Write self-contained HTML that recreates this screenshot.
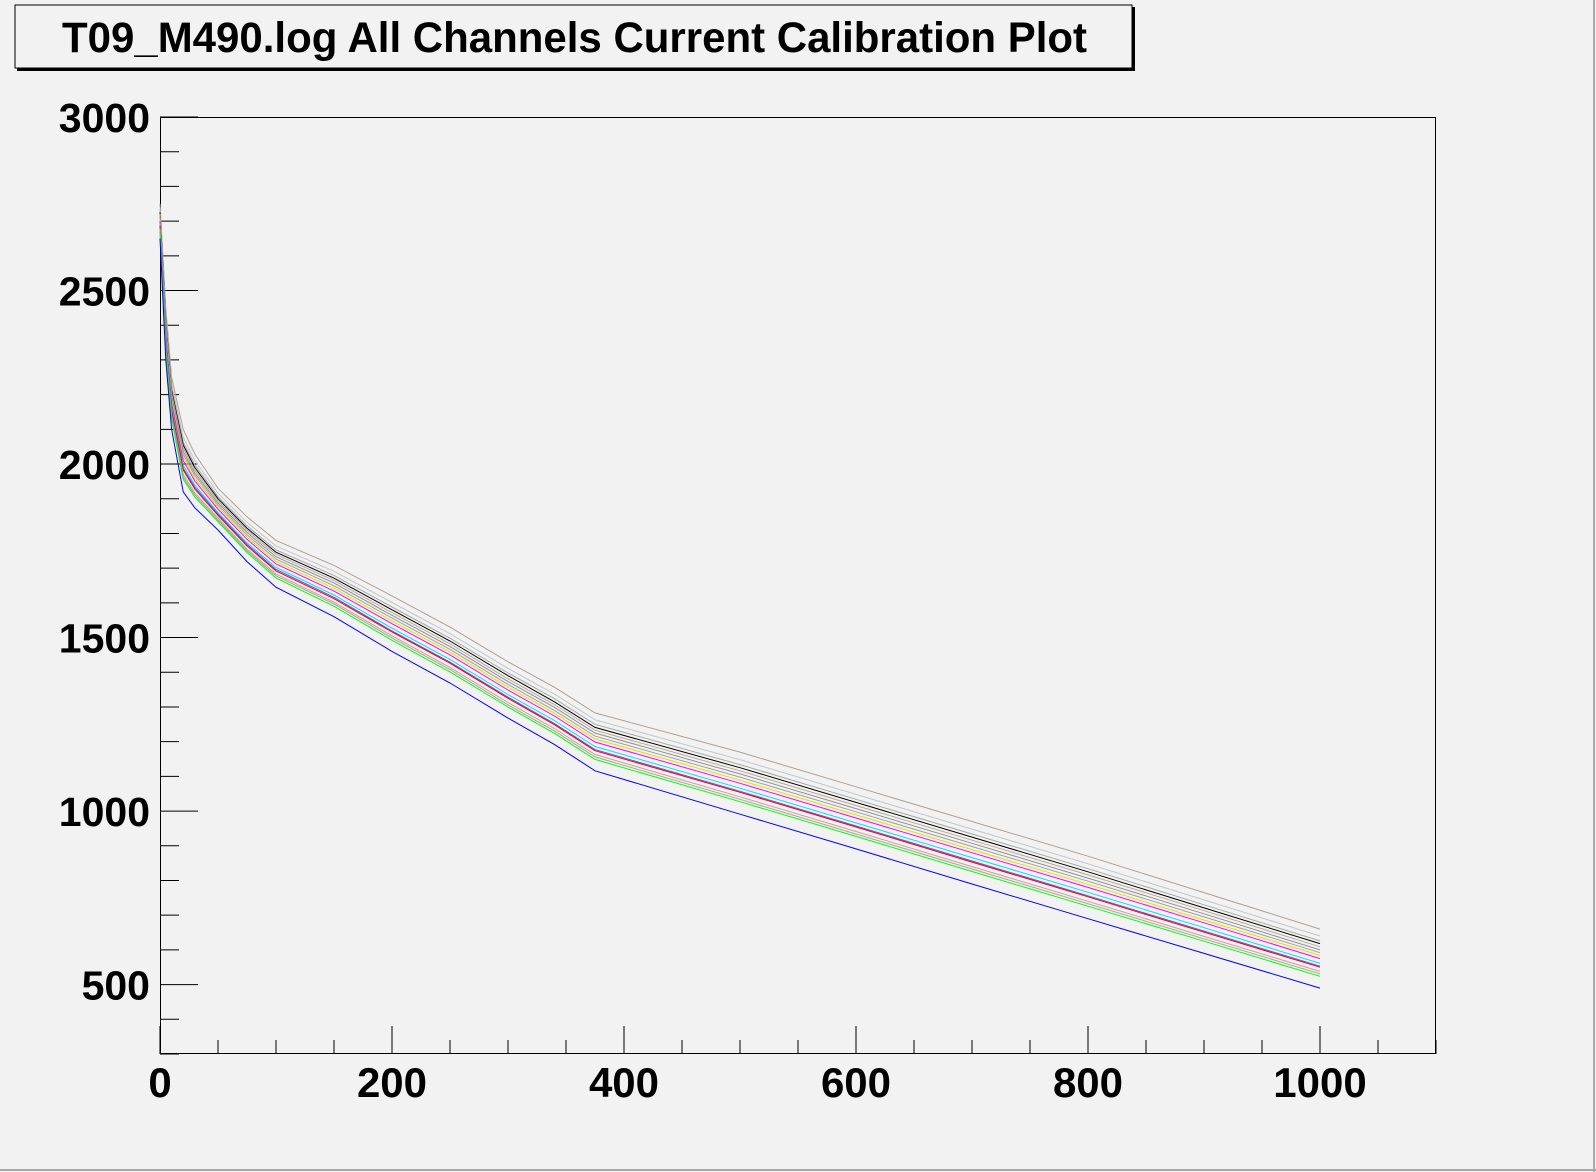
<!DOCTYPE html>
<html><head><meta charset="utf-8"><style>
html,body{margin:0;padding:0;background:#f2f2f2;}
svg{display:block;}
text{font-family:"Liberation Sans",Arial,sans-serif;font-weight:bold;fill:#000;}
</style></head><body>
<svg id="chart" width="1596" height="1172" viewBox="0 0 1596 1172" xmlns="http://www.w3.org/2000/svg">
<rect x="0" y="0" width="1596" height="1172" fill="#f2f2f2"/>
<line x1="1594" y1="0" x2="1594" y2="1172" stroke="#a8a8a8" stroke-width="2"/>
<line x1="0" y1="1170" x2="1596" y2="1170" stroke="#a8a8a8" stroke-width="2"/>
<g>
<rect x="17" y="7" width="1118" height="64" fill="#000"/>
<rect x="15" y="5" width="1117" height="63" fill="#f2f2f2" stroke="#000" stroke-width="1"/>
<text x="62" y="52" font-size="43" textLength="1025" lengthAdjust="spacingAndGlyphs">T09_M490.log All Channels Current Calibration Plot</text>
</g>
<rect x="160.5" y="117.5" width="1275" height="936" fill="none" stroke="#000" stroke-width="1"/>
<g id="axes"></g>
<g id="series"></g>
</svg>
<script>
const xs = [0,5,10,20,30,50,75,100,150,200,250,300,340,375,500,600,700,800,900,1000];
const seriesBlue    = [2650,2300,2100,1920,1874,1810,1719,1645,1560,1460,1369,1268,1192,1116,991,891,790,690,590,490];
const seriesGreen   = [2670,2330,2130,1956,1905,1834,1745,1672,1590,1492,1401,1300,1224,1149,1027,927,826,726,625,524];
const seriesTan1    = [2675,2337,2137,1963,1911,1839,1750,1678,1597,1499,1408,1306,1231,1156,1034,934,833,733,632,531];
const seriesGreen2  = [2678,2342,2142,1970,1917,1844,1755,1683,1602,1505,1414,1313,1238,1163,1041,941,840,740,639,538];
const seriesBlue2   = [2688,2357,2157,1988,1933,1856,1768,1696,1616,1519,1429,1328,1252,1177,1057,957,856,756,654,553];
const seriesRed     = [2685,2352,2152,1983,1928,1852,1764,1692,1612,1516,1426,1325,1249,1174,1054,954,853,753,651,550];
const seriesCyan    = [2692,2363,2163,1996,1939,1860,1773,1702,1623,1527,1437,1336,1261,1186,1066,966,866,766,664,561];
const seriesMagenta = [2700,2375,2175,2010,1951,1870,1783,1712,1634,1540,1450,1349,1274,1199,1080,980,880,780,678,575];
const seriesYellow  = [2705,2382,2182,2019,1959,1876,1790,1719,1642,1548,1458,1357,1282,1208,1089,989,889,789,686,584];
const seriesGray1   = [2710,2390,2190,2028,1967,1882,1796,1726,1649,1556,1466,1365,1290,1216,1098,998,898,798,695,592];
const seriesGray2   = [2715,2397,2197,2037,1974,1888,1803,1733,1657,1564,1474,1373,1299,1225,1107,1007,907,807,704,600];
const seriesGray3   = [2720,2405,2205,2046,1982,1894,1809,1740,1664,1572,1482,1381,1307,1233,1116,1016,916,816,713,609];
const seriesBlack   = [2725,2412,2212,2055,1990,1900,1815,1746,1671,1580,1490,1390,1315,1241,1125,1025,925,825,721,618];
const seriesGray4   = [2730,2420,2220,2064,1998,1906,1822,1753,1679,1588,1498,1398,1324,1250,1134,1034,934,834,730,626];
const seriesGray5   = [2738,2432,2232,2078,2010,1916,1832,1764,1691,1601,1511,1411,1337,1263,1148,1048,948,848,744,640];
const seriesTop     = [2750,2450,2250,2100,2029,1930,1848,1780,1708,1620,1530,1430,1357,1283,1170,1070,970,870,765,660];
const xTickLabels = [0,200,400,600,800,1000];
const yTickLabels = [500,1000,1500,2000,2500,3000];

const X0=160, X1=1436, Y0=1054, Y1=117;
const XMIN=0, XMAX=1100, YMIN=300, YMAX=3000;
function sx(v){return X0+(v-XMIN)/(XMAX-XMIN)*(X1-X0);}
function sy(v){return Y0-(v-YMIN)/(YMAX-YMIN)*(Y0-Y1);}
const NS="http://www.w3.org/2000/svg";
function mk(tag,attrs,parent){const e=document.createElementNS(NS,tag);for(const k in attrs)e.setAttribute(k,attrs[k]);parent.appendChild(e);return e;}
const axes=document.getElementById('axes');
for(let v=YMIN; v<=YMAX; v+=100){
  const major = v%500===0;
  const t=mk('line',{x1:X0,x2:X0+(major?38:19),y1:sy(v),y2:sy(v),stroke:'#000','stroke-width':1},axes);
  
  
}
yTickLabels.forEach(v=>{
  const t=mk('text',{x:150,y:sy(v)+15,'font-size':41,'text-anchor':'end'},axes);
  t.textContent=v;
  
  
});
for(let v=XMIN; v<=XMAX; v+=50){
  const major = v%200===0;
  const t=mk('line',{x1:sx(v),x2:sx(v),y1:Y0,y2:Y0-(major?28:14),stroke:'#000','stroke-width':1},axes);
  
  
}
xTickLabels.forEach(v=>{
  const t=mk('text',{x:sx(v),y:1097,'font-size':42,'text-anchor':'middle'},axes);
  t.textContent=v;
  
  
});
const seriesList=[
 [seriesTop,'#b0a090','channel-top'],
 [seriesGray5,'#c0c8c8','channel-gray-5'],
 [seriesGray4,'#a8a8a8','channel-gray-4'],
 [seriesBlack,'#000000','channel-black'],
 [seriesGray3,'#b8a898','channel-gray-3'],
 [seriesGray2,'#909090','channel-gray-2'],
 [seriesGray1,'#a0a0a0','channel-gray-1'],
 [seriesYellow,'#e0e000','channel-yellow'],
 [seriesMagenta,'#ff00ff','channel-magenta'],
 [seriesCyan,'#00e0ff','channel-cyan'],
 [seriesBlue2,'#5050ff','channel-blue-2'],
 [seriesRed,'#ff0000','channel-red'],
 [seriesGreen2,'#b8a898','channel-green-2'],
 [seriesTan1,'#b0a090','channel-tan'],
 [seriesGreen,'#00ff00','channel-green'],
 [seriesBlue,'#0000ff','channel-blue']
];
const sg=document.getElementById('series');
seriesList.forEach(([vals,col,name])=>{
  const pts=vals.map((v,i)=>sx(xs[i]).toFixed(1)+','+sy(v).toFixed(1)).join(' ');
  const p=mk('polyline',{points:pts,fill:'none',stroke:col,'stroke-width':1},sg);
  
  
});
</script>
</body></html>
